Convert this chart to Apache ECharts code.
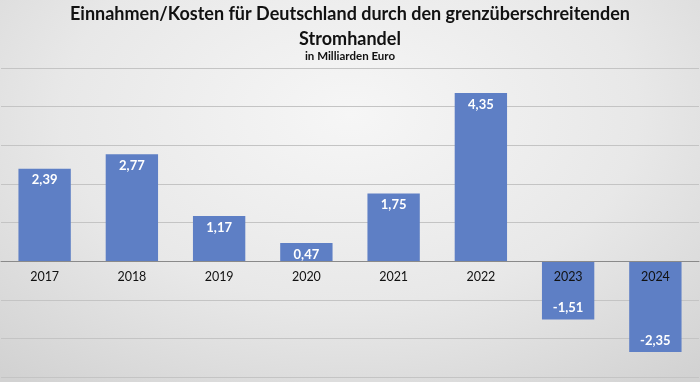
<!DOCTYPE html>
<html>
<head>
<meta charset="utf-8">
<script src="https://cdn.jsdelivr.net/npm/echarts@6/dist/echarts.min.js"></script>
<style>
html,body{margin:0;padding:0;}
#c{width:700px;height:382px;background:radial-gradient(ellipse 75% 90% at 50% 30%, #f6f6f6 0%, #e8e8e8 55%, #d2d2d2 100%);}
</style>
</head>
<body>
<div id="c"></div>
<script>
const categories = ['2017','2018','2019','2020','2021','2022','2023','2024'];
const values = [2.39, 2.77, 1.17, 0.47, 1.75, 4.35, -1.51, -2.35];
const titleText = 'Einnahmen/Kosten für Deutschland durch den grenzüberschreitenden\nStromhandel';
const subtitleText = 'in Milliarden Euro';
const yMin = -3, yMax = 5, yStep = 1;

const gridTop = 68, gridBottom = 5, H = 382;
const gridH = H - gridTop - gridBottom;
const zeroOffset = -gridH * (0 - yMin) / (yMax - yMin);

const chart = echarts.init(document.getElementById('c'), null, {renderer:'canvas'});
const fmt = v => v.toFixed(2).replace('.', ',');
chart.setOption({
  backgroundColor: 'transparent',
  title: {
    text: titleText,
    subtext: subtitleText,
    left: 'center',
    top: -3,
    itemGap: -2,
    textStyle: {fontFamily:'Lato', fontWeight:'bold', fontSize:18, color:'#111', lineHeight:25},
    subtextStyle: {fontFamily:'Lato', fontWeight:'bold', fontSize:11.5, color:'#111'}
  },
  grid: {left:1, right:1, top:gridTop, bottom:gridBottom, containLabel:false, outerBoundsMode:'none'},
  xAxis: {
    type:'category',
    data: categories,
    position:'bottom',
    offset: zeroOffset,
    z: 10,
    axisLine: {onZero:false, lineStyle:{color:'#8a8a8a', width:1}},
    axisTick: {show:false},
    axisLabel: {fontFamily:'Lato', fontSize:12.5, color:'#111', margin:9}
  },
  yAxis: {
    type:'value', min:yMin, max:yMax, interval:yStep,
    axisLabel:{show:false},
    axisLine:{show:false}, axisTick:{show:false},
    splitLine:{lineStyle:{color:'#c4c4c4', width:1}}
  },
  series: [{
    type:'bar',
    barWidth:'60%',
    itemStyle:{color:'#5e7fc5'},
    data: values.map(v => ({
      value: v,
      label: {position: v >= 0 ? 'insideTop' : 'insideBottom'}
    })),
    label: {
      show:true, distance:5,
      color:'#fff', fontFamily:'Lato', fontWeight:'bold', fontSize:13,
      formatter: p => fmt(p.value)
    }
  }]
});
</script>
</body>
</html>
